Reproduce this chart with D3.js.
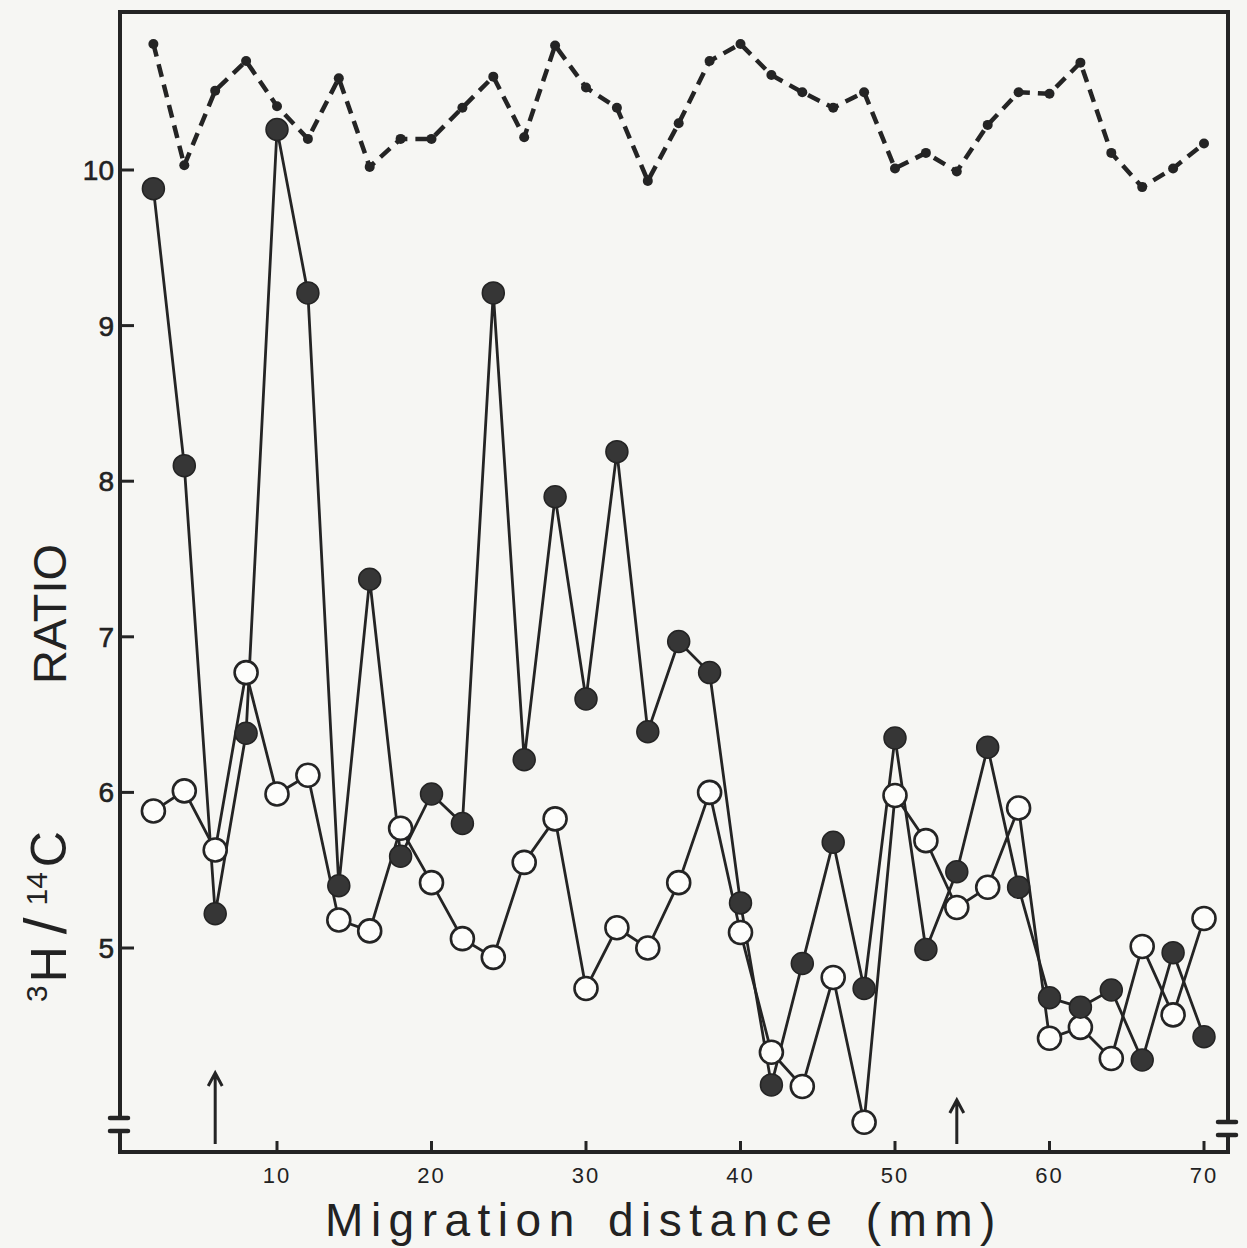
<!DOCTYPE html>
<meta charset="utf-8">
<style>
body { margin: 0; background: #f6f6f3; }
svg { display: block; }
text { font-family: "Liberation Sans", Arial, sans-serif; fill: #222; }
</style>
<body>
<svg id="chart" width="1247" height="1248"></svg>
</body>
<script src="https://d3js.org/d3.v7.min.js"></script>
<script>

// migration distance (mm) of each fraction
var distance = [2, 4, 6, 8, 10, 12, 14, 16, 18, 20, 22, 24, 26, 28, 30, 32, 34, 36,
                38, 40, 42, 44, 46, 48, 50, 52, 54, 56, 58, 60, 62, 64, 66, 68, 70];

// filled circles
var filledRatio = [9.88, 8.10, 5.22, 6.38, 10.26, 9.21, 5.40, 7.37, 5.59, 5.99, 5.80, 9.21,
                   6.21, 7.90, 6.60, 8.19, 6.39, 6.97, 6.77, 5.29, 4.12, 4.90, 5.68, 4.74,
                   6.35, 4.99, 5.49, 6.29, 5.39, 4.68, 4.62, 4.73, 4.28, 4.97, 4.43];

// open circles
var openRatio = [5.88, 6.01, 5.63, 6.77, 5.99, 6.11, 5.18, 5.11, 5.77, 5.42, 5.06, 4.94,
                 5.55, 5.83, 4.74, 5.13, 5.00, 5.42, 6.00, 5.10, 4.33, 4.11, 4.81, 3.88,
                 5.98, 5.69, 5.26, 5.39, 5.90, 4.42, 4.49, 4.29, 5.01, 4.57, 5.19];

// dashed trace along the top
var dashedRatio = [10.81, 10.03, 10.51, 10.70, 10.41, 10.20, 10.59, 10.02, 10.20, 10.20, 10.40, 10.60,
                   10.21, 10.80, 10.53, 10.40, 9.93, 10.30, 10.70, 10.81, 10.61, 10.50, 10.40, 10.50,
                   10.01, 10.11, 9.99, 10.29, 10.50, 10.49, 10.69, 10.11, 9.89, 10.01, 10.17];

var xTicks = [10, 20, 30, 40, 50, 60, 70];
var yTicks = [5, 6, 7, 8, 9, 10];
var arrowAt = [6, 54];

var ink = "#242424";

var svg = d3.select("#chart");

var frame = {left: 120, right: 1228, top: 12, bottom: 1152};

var x = d3.scaleLinear().domain([10, 70]).range([277, 1204]);
var y = d3.scaleLinear().domain([5, 10]).range([948, 170]);

// frame: left axis, top, right side, bottom axis (with the axis breaks near the bottom)
var breakY = 1118;
svg.append("path")
    .attr("d", "M" + frame.left + "," + breakY + "V" + frame.top + "H" + frame.right + "V" + (breakY + 4))
    .attr("fill", "none")
    .attr("stroke", ink)
    .attr("stroke-width", 4);

svg.append("path")
    .attr("d", "M" + frame.left + "," + (breakY + 13) + "V" + frame.bottom + "H" + frame.right + "V" + (breakY + 17))
    .attr("fill", "none")
    .attr("stroke", ink)
    .attr("stroke-width", 4);

// small break marks on both vertical sides
[[frame.left, breakY], [frame.right, breakY + 4]].forEach(function(p) {
  [p[1], p[1] + 13].forEach(function(py) {
    svg.append("line")
        .attr("x1", p[0] - 10).attr("x2", p[0] + 8)
        .attr("y1", py).attr("y2", py)
        .attr("stroke", ink)
        .attr("stroke-width", 4.5)
        .attr("stroke-linecap", "round");
  });
});

// y ticks (inside) and labels
svg.append("g").selectAll("line")
  .data(yTicks)
  .enter().append("line")
    .attr("x1", frame.left).attr("x2", frame.left + 14)
    .attr("y1", function(d) { return y(d); })
    .attr("y2", function(d) { return y(d); })
    .attr("stroke", ink)
    .attr("stroke-width", 3);

svg.append("g").selectAll("text")
  .data(yTicks)
  .enter().append("text")
    .attr("x", frame.left - 6)
    .attr("y", function(d) { return y(d); })
    .attr("dy", "0.36em")
    .attr("text-anchor", "end")
    .style("font-size", "28px")
    .style("stroke", "#222")
    .style("stroke-width", 0.6)
    .text(function(d) { return d; });

// x ticks (inside) and labels
svg.append("g").selectAll("line")
  .data(xTicks)
  .enter().append("line")
    .attr("x1", function(d) { return x(d); })
    .attr("x2", function(d) { return x(d); })
    .attr("y1", frame.bottom).attr("y2", frame.bottom - 11)
    .attr("stroke", ink)
    .attr("stroke-width", 3);

svg.append("g").selectAll("text")
  .data(xTicks)
  .enter().append("text")
    .attr("x", function(d) { return x(d); })
    .attr("y", frame.bottom + 31)
    .attr("text-anchor", "middle")
    .style("font-size", "22px")
    .style("letter-spacing", "2px")
    .text(function(d) { return d; });

// axis titles
svg.append("text")
    .attr("x", 664)
    .attr("y", 1236)
    .attr("text-anchor", "middle")
    .style("font-size", "46px")
    .style("letter-spacing", "7.5px")
    .style("word-spacing", "6px")
    .text("Migration distance (mm)");

var yTitle = svg.append("text")
    .attr("transform", "translate(66,1002) rotate(-90)")
    .style("font-size", "50px");
yTitle.append("tspan").style("font-size", "30px").attr("dy", -19).text("3");
yTitle.append("tspan").attr("dy", 19).attr("dx", 3).text("H");
yTitle.append("tspan").attr("dx", 12).style("font-size", "60px").text("/");
yTitle.append("tspan").style("font-size", "30px").attr("dx", 12).attr("dy", -19).text("14");
yTitle.append("tspan").attr("dy", 19).attr("dx", 5).text("C");

svg.append("text")
    .attr("transform", "translate(66,684) rotate(-90)")
    .style("font-size", "47px")
    .text("RATIO");

// arrows marking positions on the gel
arrowAt.forEach(function(d, i) {
  var top = i === 0 ? 1073 : 1100,
      px = x(d);
  svg.append("path")
      .attr("d", "M" + px + "," + (frame.bottom - 8) + "V" + top +
                 "M" + (px - 7) + "," + (top + 13) + "L" + px + "," + top + "L" + (px + 7) + "," + (top + 13))
      .attr("fill", "none")
      .attr("stroke", ink)
      .attr("stroke-width", 3);
});

var pts = function(vals) {
  return distance.map(function(d, i) { return [d, vals[i]]; });
};

var line = d3.line()
    .x(function(d) { return x(d[0]); })
    .y(function(d) { return y(d[1]); });

// dashed trace
svg.append("path")
    .datum(pts(dashedRatio))
    .attr("d", line)
    .attr("fill", "none")
    .attr("stroke", ink)
    .attr("stroke-width", 4.5)
    .attr("stroke-dasharray", "13,8")
    .attr("stroke-linejoin", "round");

svg.append("g").selectAll("circle")
  .data(pts(dashedRatio))
  .enter().append("circle")
    .attr("cx", function(d) { return x(d[0]); })
    .attr("cy", function(d) { return y(d[1]); })
    .attr("r", 5)
    .attr("fill", ink);

// connecting lines
svg.append("path")
    .datum(pts(filledRatio))
    .attr("d", line)
    .attr("fill", "none")
    .attr("stroke", ink)
    .attr("stroke-width", 2.8);

svg.append("path")
    .datum(pts(openRatio))
    .attr("d", line)
    .attr("fill", "none")
    .attr("stroke", ink)
    .attr("stroke-width", 2.8);

// open circles
svg.append("g").selectAll("circle")
  .data(pts(openRatio))
  .enter().append("circle")
    .attr("cx", function(d) { return x(d[0]); })
    .attr("cy", function(d) { return y(d[1]); })
    .attr("r", 11.5)
    .attr("fill", "#fdfdfb")
    .attr("stroke", ink)
    .attr("stroke-width", 2.6);

// filled circles
svg.append("g").selectAll("circle")
  .data(pts(filledRatio))
  .enter().append("circle")
    .attr("cx", function(d) { return x(d[0]); })
    .attr("cy", function(d) { return y(d[1]); })
    .attr("r", 11)
    .attr("fill", "#363636")
    .attr("stroke", ink)
    .attr("stroke-width", 1.5);

</script>
